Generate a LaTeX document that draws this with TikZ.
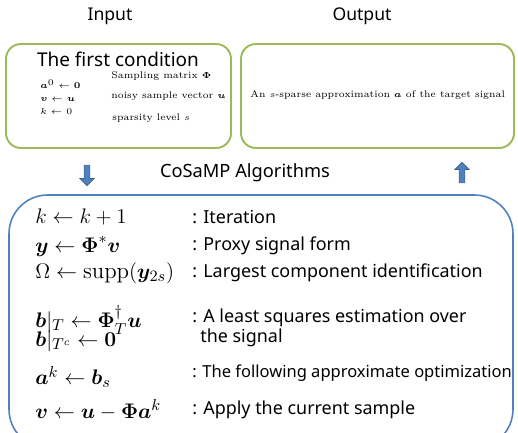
\documentclass[tikz,border=0pt]{standalone}
\usepackage{bm}
\usepackage{amsmath}
\usepackage{fontspec}
\newfontfamily\gul{Noto Sans}
\usetikzlibrary{positioning,shapes.arrows}
\definecolor{boxgreen}{RGB}{155,187,89}
\definecolor{boxblue}{RGB}{79,129,189}
\definecolor{arrblue}{RGB}{56,93,138}
\newcommand*{\alg}[1]{\fontsize{13}{15}\selectfont$#1$}
\newcommand*{\sml}{\fontsize{5.5}{7.4}\selectfont}

\begin{document}
\begin{tikzpicture}[x=0.02cm,y=-0.02cm,
  title/.style={font=\gul\fontsize{10}{12}\selectfont},
  step-math/.style={anchor=west,inner sep=0pt},
  step-text/.style={anchor=west,inner sep=0pt,font=\gul\fontsize{10.2}{12}\selectfont,align=left},
  flow/.style={single arrow,draw=arrblue,fill=boxblue,minimum height=11.5pt,minimum width=8pt,
               single arrow head extend=2pt,inner sep=1.2pt}]
\useasboundingbox (0,0) rectangle (518,433);
% Headers
\node[title] (input) at (110,16) {Input};
\node[title] (output) at (362,16) {Output};
% Input box and output box
\draw[boxgreen,line width=1.1pt,rounded corners=8.5pt] (6,44) rectangle (231,148);
\draw[boxgreen,line width=1.1pt,rounded corners=8.5pt] (241,44) rectangle (514,148);
\node[font=\gul\fontsize{10.8}{13}\selectfont] (cond) at (118,59) {The first condition};
\node[step-math,align=left,font=\sml] (init) at (40,97)
  {$\bm{a}^0\leftarrow\bm{0}$\\$\bm{v}\leftarrow\bm{u}$\\$k\leftarrow 0$};
\node[step-math,font=\sml] (matrix) at (111,76) {Sampling matrix $\bm{\Phi}$};
\node[step-math,font=\sml] (noisy) at (111,96) {noisy sample vector $\bm{u}$};
\node[step-math,font=\sml] (sparse) at (112,118) {sparsity level $s$};
\node[step-math,font=\sml] (approx) at (250,95)
  {An $s$-sparse approximation $\bm{a}$ of the target signal};
% Flow arrows and algorithm title
\node[flow,shape border rotate=270] (down) at (87,174) {};
\node[flow,shape border rotate=90] (up) at (462,174) {};
\node[title,font=\gul\fontsize{10.4}{12.5}\selectfont] (cosamp) at (245,173) {CoSaMP Algorithms};
% Algorithm box (runs past the bottom edge)
\draw[boxblue,line width=0.9pt,rounded corners=22pt] (9,195) rectangle (513,448);
\node[step-math] (iter) at (35,217) {\alg{k\leftarrow k+1}};
\node[step-math] (proxy) at (35,246) {\alg{\bm{y}\leftarrow\bm{\Phi}^{*}\bm{v}}};
\node[step-math] (supp) at (35,273) {\alg{\Omega\leftarrow\operatorname{supp}(\bm{y}_{2s})}};
\node[step-math] (lsT) at (35,320) {\alg{\bm{b}|_{T}\leftarrow\bm{\Phi}_{T}^{\dagger}\bm{u}}};
\node[step-math] (lsTc) at (35,341) {\alg{\bm{b}|_{T^{c}}\leftarrow\bm{0}}};
\node[step-math] (bs) at (35,377) {\alg{\bm{a}^{k}\leftarrow\bm{b}_{s}}};
\node[step-math] (upd) at (35,410) {\alg{\bm{v}\leftarrow\bm{u}-\bm{\Phi}\bm{a}^{k}}};
\node[step-text] (t1) at (192,217) {: Iteration};
\node[step-text] (t2) at (192,246) {: Proxy signal form};
\node[step-text] (t3) at (192,273) {: Largest component identification};
\node[step-text] (t4) at (192,318) {: A least squares estimation over};
\node[step-text] (t4b) at (200,338) {the signal};
\node[step-text,font=\gul\fontsize{9.4}{12}\selectfont] (t5) at (192,373) {: The following approximate optimization};
\node[step-text] (t6) at (192,410) {: Apply the current sample};
\end{tikzpicture}
\end{document}
